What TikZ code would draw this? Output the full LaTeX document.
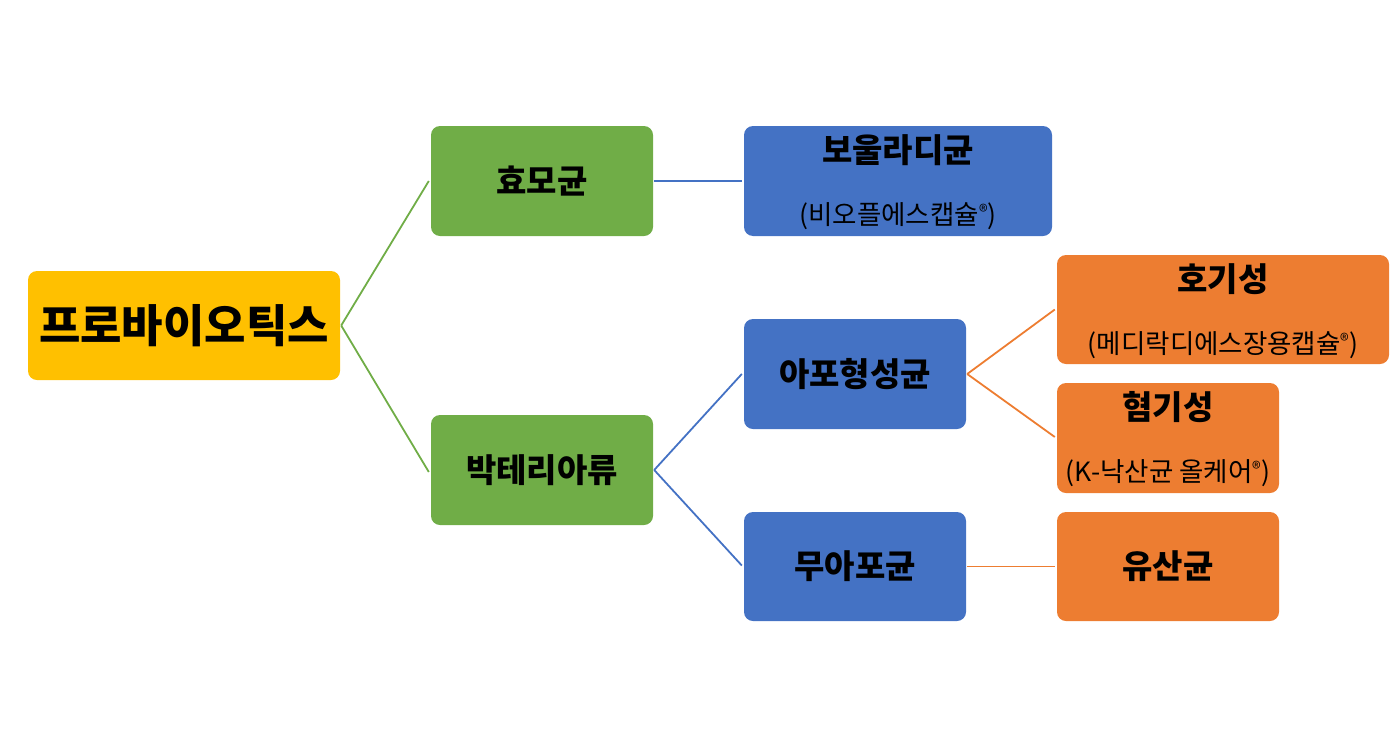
\documentclass[tikz,border=0pt]{standalone}
\usepackage{fontspec}
\setmainfont{Noto Sans CJK KR}
\definecolor{cyel}{HTML}{FFC000}
\definecolor{cgrn}{HTML}{70AD47}
\definecolor{cblu}{HTML}{4472C4}
\definecolor{corg}{HTML}{ED7D31}
\newcommand{\regm}{\raisebox{6pt}{\fontsize{18}{18}\selectfont ®}}
\tikzset{
  box/.style={rectangle, rounded corners=9pt, inner sep=0pt, draw=none},
  ttl/.style={font=\fontsize{33}{36}\selectfont\bfseries, text=black, inner sep=0pt},
  sub/.style={font=\fontsize{26.5}{29}\selectfont, text=black, inner sep=0pt},
  lnk/.style={line width=1.8pt},
}
\begin{document}
\begin{tikzpicture}[x=1pt,y=-1pt]
\useasboundingbox (0,0) rectangle (1391,747);
% boxes
\node[box, fill=cyel, minimum width=312pt, minimum height=109pt, font=\fontsize{45}{48}\selectfont\bfseries] (pro) at (184,325.5) {프로바이오틱스};
\node[box, fill=cgrn, minimum width=222pt, minimum height=110pt, ttl] (yeast) at (542,181) {효모균};
\node[box, fill=cgrn, minimum width=222pt, minimum height=110pt, ttl] (bact) at (542,470) {박테리아류};
\node[box, fill=cblu, minimum width=308pt, minimum height=110pt] (boul) at (898,181) {};
\node[ttl] (boult) at (898,150) {보울라디균};
\node[sub] (bouls) at (898,216) {(비오플에스캡슐\regm)};
\node[box, fill=cblu, minimum width=222pt, minimum height=110pt, ttl] (spore) at (855,374) {아포형성균};
\node[box, fill=cblu, minimum width=222pt, minimum height=109pt, ttl] (nospore) at (855,566.5) {무아포균};
\node[box, fill=corg, minimum width=332pt, minimum height=109pt] (aer) at (1223,309.5) {};
\node[ttl] (aert) at (1223,279) {호기성};
\node[sub] (aers) at (1223,345) {(메디락디에스장용캡슐\regm)};
\node[box, fill=corg, minimum width=222pt, minimum height=110pt] (ana) at (1168,438) {};
\node[ttl] (anat) at (1168,407) {혐기성};
\node[sub] (anas) at (1168,473) {(K-낙산균 올케어\regm)};
\node[box, fill=corg, minimum width=222pt, minimum height=109pt, ttl] (lac) at (1168,566.5) {유산균};
% connectors
\draw[lnk, cgrn] ([xshift=1pt]pro.east) -- ([xshift=-2pt]yeast.west);
\draw[lnk, cgrn] ([xshift=1pt]pro.east) -- ([xshift=-2pt,yshift=-2pt]bact.west);
\draw[lnk, cblu] ([xshift=1pt]yeast.east) -- ([xshift=-2pt]boul.west);
\draw[lnk, cblu] ([xshift=1pt]bact.east) -- ([xshift=-2pt]spore.west);
\draw[lnk, cblu] ([xshift=1pt]bact.east) -- ([xshift=-2pt,yshift=1pt]nospore.west);
\draw[lnk, corg] ([xshift=1pt]spore.east) -- ([xshift=-2pt]aer.west);
\draw[lnk, corg] ([xshift=1pt]spore.east) -- ([xshift=-2pt,yshift=1pt]ana.west);
\draw[lnk, corg] ([xshift=1pt]nospore.east) -- ([xshift=-2pt]lac.west);
\end{tikzpicture}
\end{document}
